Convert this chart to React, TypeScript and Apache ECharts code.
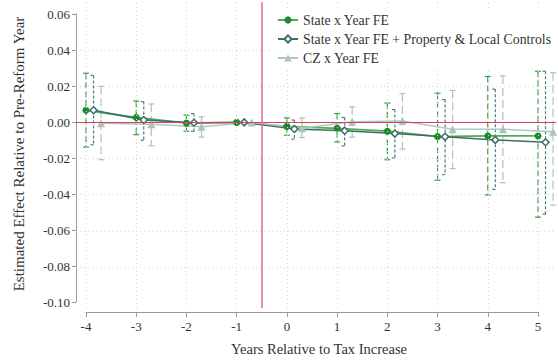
import React, { useEffect, useRef } from "react";
import * as echarts from "echarts";

// ---- data ----
const years = [-4, -3, -2, -1, 0, 1, 2, 3, 4, 5];
const stateFE = [0.0067, 0.0027, -0.0004, 0, -0.0022, -0.0033, -0.0049, -0.0079, -0.0075, -0.0075];
const stateLo = [-0.0137, -0.0068, -0.0049, null, -0.0071, -0.0108, -0.0207, -0.032, -0.0402, -0.0525];
const stateHi = [0.0272, 0.0118, 0.004, null, 0.0025, 0.0049, 0.0107, 0.0162, 0.0254, 0.0283];
const controlsFE = [0.0067, 0.0013, -0.0002, 0, -0.0037, -0.0046, -0.0062, -0.008, -0.0097, -0.011];
const controlsLo = [-0.0124, -0.0099, -0.005, null, -0.0093, -0.013, -0.0197, -0.0289, -0.0371, -0.0508];
const controlsHi = [0.026, 0.0115, 0.0049, null, 0.0013, 0.0027, 0.0071, 0.0126, 0.0184, 0.0283];
const czFE = [-0.0005, -0.0011, -0.0024, 0, -0.0033, 0.0003, 0.0007, -0.0038, -0.0038, -0.0052];
const czLo = [-0.0207, -0.013, -0.0082, null, -0.0084, -0.0082, -0.0148, -0.0256, -0.0334, -0.0458];
const czHi = [0.02, 0.0102, 0.0031, null, 0.0025, 0.0086, 0.0159, 0.0177, 0.0257, 0.0275];
const xTicks = [-4, -3, -2, -1, 0, 1, 2, 3, 4, 5];
const yTicks = [-0.1, -0.08, -0.06, -0.04, -0.02, 0, 0.02, 0.04, 0.06];
const seriesNames = [
  "State x Year FE",
  "State x Year FE + Property & Local Controls",
  "CZ x Year FE",
];
const reformLine = -0.5;

// ---- layout (pixels) ----
const W = 558;
const H = 361;
const plotLeft = 76, plotRight = 556, plotTop = 2, plotBottom = 308;
const axX0 = 86, axX1 = 538, axY0 = 14, axY1 = 303;

const FONT = "Liberation Serif";
const TEXT = "#333";
const AXIS = "#9a9a9a";
const GRID = "#d6d6d6";

export default function App() {
  const ref = useRef<HTMLDivElement>(null);
  useEffect(() => {
    if (!ref.current) return;
    const chart = echarts.init(ref.current, null, { renderer: "svg" });

    const xMinT = xTicks[0], xMaxT = xTicks[xTicks.length - 1];
    const yMinT = yTicks[0], yMaxT = yTicks[yTicks.length - 1];
    const xPer = (xMaxT - xMinT) / (axX1 - axX0);
    const yPer = (yMaxT - yMinT) / (axY1 - axY0);
    const x0min = xMinT - (axX0 - plotLeft) * xPer;
    const x0max = xMaxT + (plotRight - axX1) * xPer;
    const y0max = yMaxT + (axY0 - plotTop) * yPer;
    const y0min = yMinT - (plotBottom - axY1) * yPer;

    const specs = [
      { name: seriesNames[0], v: stateFE, lo: stateLo, hi: stateHi, off: 0,
        symbol: "circle", mColor: "#1d8b2b", mBorder: "#1d8b2b", lColor: "#55aa55", lWidth: 1.8,
        ciColor: "#3c9e46", dash: [6, 3], cap: "both" },
      { name: seriesNames[1], v: controlsFE, lo: controlsLo, hi: controlsHi, off: 0.15,
        symbol: "diamond", mColor: "#ffffff", mBorder: "#3b6e6a", lColor: "#3b6e6a", lWidth: 1.5,
        ciColor: "#4a7f7b", dash: [3, 2], cap: "left" },
      { name: seriesNames[2], v: czFE, lo: czLo, hi: czHi, off: 0.3,
        symbol: "triangle", mColor: "#a9c5ba", mBorder: "#a9c5ba", lColor: "#afc9bf", lWidth: 1.5,
        ciColor: "#a9c5ba", dash: [8, 4], cap: "both" },
    ];

    const series: any[] = [];
    // gridlines & reference lines
    series.push({
      type: "line", xAxisIndex: 0, yAxisIndex: 0, data: [], silent: true, z: 0,
      markLine: {
        silent: true, symbol: "none", label: { show: false }, animation: false,
        lineStyle: { color: GRID, type: [1, 3], width: 1 },
        data: [
          ...xTicks.map((x) => ({ xAxis: x })),
          ...yTicks.slice(1, -1).map((y) => ({ yAxis: y })),
        ],
      },
    });
    series.push({
      type: "line", xAxisIndex: 0, yAxisIndex: 0, data: [], silent: true, z: 1,
      markLine: {
        silent: true, symbol: "none", label: { show: false }, animation: false,
        data: [
          { yAxis: 0, lineStyle: { color: "#e23a66", width: 1, type: "solid" } },
          { xAxis: reformLine, lineStyle: { color: "#e07893", width: 1.6, type: "solid" } },
        ],
      },
    });

    specs.forEach((s) => {
      const ciData = years
        .map((y, i) => (s.lo[i] == null ? null : [y + s.off, s.lo[i], s.hi[i]]))
        .filter((d) => d != null);
      series.push({
        type: "custom", xAxisIndex: 0, yAxisIndex: 0, z: 2, silent: true,
        data: ciData,
        encode: { x: 0, y: [1, 2] },
        renderItem: (params: any, api: any) => {
          const x = api.value(0);
          const top = api.coord([x, api.value(2)]);
          const bot = api.coord([x, api.value(1)]);
          const capL = 3;
          const capR = s.cap === "left" ? 0 : 3;
          const st = { stroke: s.ciColor, lineWidth: 1.2 };
          return {
            type: "group",
            children: [
              { type: "line", shape: { x1: top[0], y1: top[1], x2: bot[0], y2: bot[1] },
                style: { ...st, lineDash: s.dash } },
              { type: "line", shape: { x1: top[0] - capL, y1: top[1], x2: top[0] + capR, y2: top[1] }, style: st },
              { type: "line", shape: { x1: bot[0] - capL, y1: bot[1], x2: bot[0] + capR, y2: bot[1] }, style: st },
            ],
          };
        },
      });
    });

    specs.forEach((s) => {
      series.push({
        name: s.name, type: "line", xAxisIndex: 0, yAxisIndex: 0, z: 3,
        data: years.map((y, i) => [y + s.off, s.v[i]]),
        symbol: s.symbol, symbolSize: s.symbol === "triangle" ? 8 : 7,
        itemStyle: { color: s.mColor, borderColor: s.mBorder, borderWidth: s.symbol === "diamond" ? 1.5 : 0 },
        lineStyle: { color: s.lColor, width: s.lWidth },
        clip: false,
      });
    });

    chart.setOption({
      animation: false,
      backgroundColor: "#fff",
      textStyle: { fontFamily: FONT },
      legend: {
        orient: "vertical",
        left: 272,
        top: 8,
        padding: [5, 5, 5, 5],
        backgroundColor: "#fff",
        itemWidth: 20,
        itemHeight: 9,
        itemGap: 5,
        data: seriesNames,
        textStyle: { fontFamily: FONT, fontSize: 13.8, color: TEXT },
        z: 10,
      },
      grid: [
        { left: plotLeft, top: plotTop, width: plotRight - plotLeft, height: plotBottom - plotTop },
        { left: axX0, top: axY0, width: axX1 - axX0, height: axY1 - axY0 },
      ],
      xAxis: [
        { type: "value", gridIndex: 0, min: x0min, max: x0max, show: false },
        {
          type: "value", gridIndex: 1, min: xMinT, max: xMaxT, interval: 1,
          position: "bottom", offset: 10,
          axisLine: { show: true, onZero: false, lineStyle: { color: AXIS, width: 1 } },
          axisTick: { show: true, length: 5, lineStyle: { color: AXIS } },
          axisLabel: { color: TEXT, fontFamily: FONT, fontSize: 13, margin: 8 },
          splitLine: { show: false },
          name: "Years Relative to Tax Increase",
          nameLocation: "middle",
          nameGap: 29,
          nameTextStyle: { color: TEXT, fontFamily: FONT, fontSize: 14.5, padding: [0, 0, 0, 14] },
        },
      ],
      yAxis: [
        { type: "value", gridIndex: 0, min: y0min, max: y0max, show: false },
        {
          type: "value", gridIndex: 1, min: yMinT, max: yMaxT, interval: 0.02,
          position: "left", offset: 10,
          axisLine: { show: true, onZero: false, lineStyle: { color: AXIS, width: 1 } },
          axisTick: { show: true, length: 4, lineStyle: { color: AXIS } },
          axisLabel: {
            color: TEXT, fontFamily: FONT, fontSize: 13, margin: 6,
            formatter: (v: number) => v.toFixed(2),
          },
          splitLine: { show: false },
          name: "Estimated Effect Relative to Pre-Reform Year",
          nameLocation: "middle",
          nameGap: 50,
          nameTextStyle: { color: TEXT, fontFamily: FONT, fontSize: 15, padding: [0, 0, 0, 8] },
        },
      ],
      series,
    });
    return () => chart.dispose();
  }, []);
  return <div ref={ref} style={{ width: W, height: H, position: "absolute", left: 0, top: 0 }} />;
}
